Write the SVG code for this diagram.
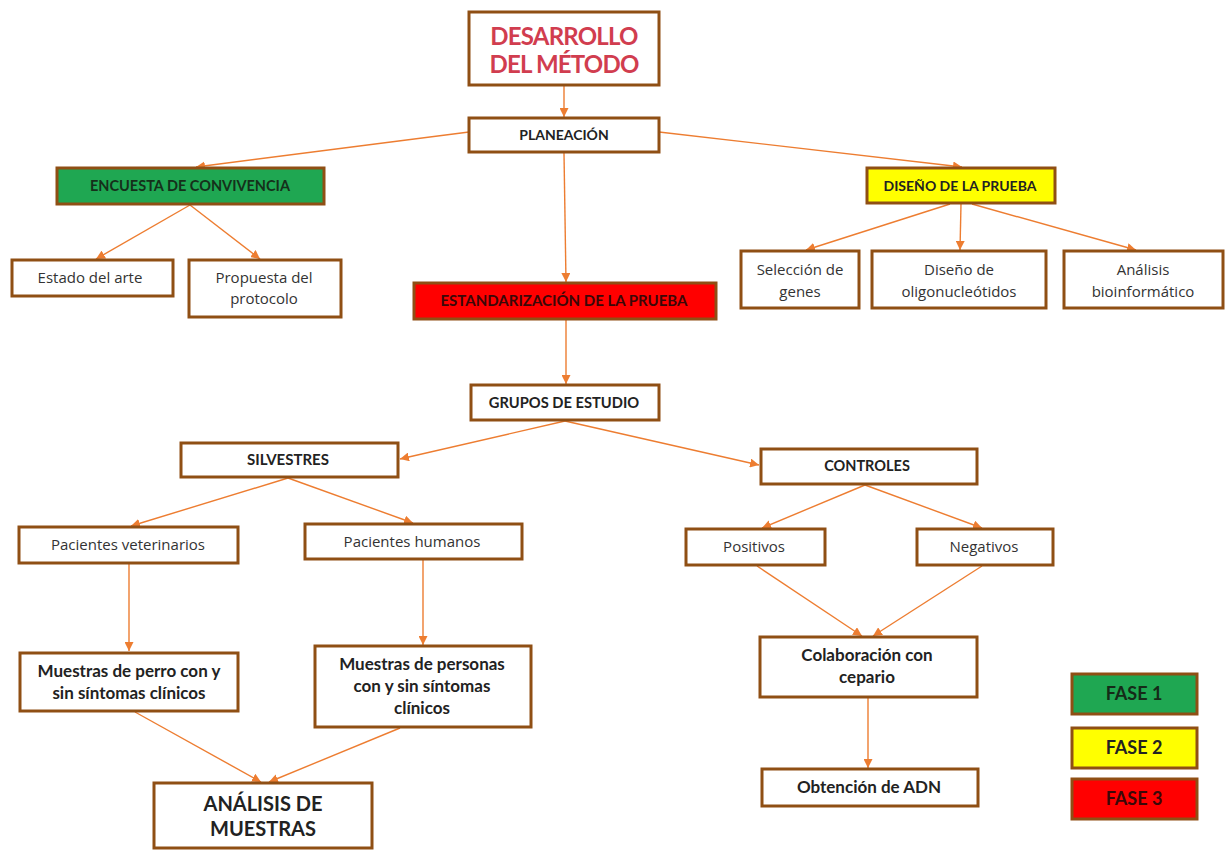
<svg xmlns="http://www.w3.org/2000/svg" width="1225" height="851" viewBox="0 0 1225 851">
<defs>
<marker id="ah" viewBox="0 0 10 10" refX="10" refY="5" markerWidth="9" markerHeight="9" markerUnits="userSpaceOnUse" orient="auto">
<path d="M0,0 L10,5 L0,10 z" fill="#ed7d31"/>
</marker>
<style>
.box{fill:#fff;stroke:#8f4f14;stroke-width:3}
.g{fill:#1fa752}.y{fill:#ffff00}.r{fill:#ff0000}
.c{fill:none;stroke:#ed7d31;stroke-width:1.4;marker-end:url(#ah)}
.b{font-family:Lato,"Liberation Sans",sans-serif;font-weight:bold;text-anchor:middle;fill:#222}
.n{font-family:"Open Sans","Liberation Sans",sans-serif;text-anchor:middle;fill:#333}
</style>
</defs>
<g id="connectors">
<line class="c" x1="564" y1="86" x2="564" y2="117"/>
<line class="c" x1="469" y1="132" x2="196" y2="167"/>
<line class="c" x1="659" y1="132" x2="962" y2="167"/>
<line class="c" x1="564" y1="153" x2="566" y2="282"/>
<line class="c" x1="190" y1="205" x2="96" y2="259"/>
<line class="c" x1="190" y1="205" x2="260" y2="259"/>
<line class="c" x1="950" y1="204" x2="806" y2="250"/>
<line class="c" x1="961" y1="204" x2="960" y2="250"/>
<line class="c" x1="972" y1="204" x2="1136" y2="250"/>
<line class="c" x1="566" y1="320" x2="566" y2="384"/>
<line class="c" x1="565" y1="421" x2="400" y2="459"/>
<line class="c" x1="565" y1="421" x2="759" y2="465"/>
<line class="c" x1="288" y1="478" x2="131" y2="526"/>
<line class="c" x1="288" y1="478" x2="413" y2="523"/>
<line class="c" x1="129" y1="564" x2="129" y2="651"/>
<line class="c" x1="423" y1="560" x2="423" y2="645"/>
<line class="c" x1="135" y1="712" x2="261" y2="782"/>
<line class="c" x1="400" y1="728" x2="269" y2="782"/>
<line class="c" x1="865" y1="485" x2="762" y2="528"/>
<line class="c" x1="865" y1="485" x2="982" y2="528"/>
<line class="c" x1="757" y1="566" x2="862" y2="636"/>
<line class="c" x1="982" y1="566" x2="873" y2="636"/>
<line class="c" x1="868" y1="698" x2="868" y2="768"/>
</g>
<g id="desarrollo"><rect class="box" x="469" y="12" width="190" height="73"/>
<text class="b" x="564" y="45" font-size="24" style="fill:#d13d4f" letter-spacing="-0.8">DESARROLLO</text>
<text class="b" x="564" y="73" font-size="24" style="fill:#d13d4f" letter-spacing="-0.8">DEL MÉTODO</text></g>
<g id="planeacion"><rect class="box" x="469" y="118" width="190" height="34"/>
<text class="b" x="564" y="140" font-size="14">PLANEACIÓN</text></g>
<g id="encuesta"><rect class="box g" x="57" y="168" width="267" height="36"/>
<text class="b" x="190" y="191" font-size="14.5" style="fill:#15301a">ENCUESTA DE CONVIVENCIA</text></g>
<g id="estado"><rect class="box" x="12" y="260" width="161" height="36"/>
<text class="n" x="90" y="283" font-size="15">Estado del arte</text></g>
<g id="propuesta"><rect class="box" x="189" y="260" width="152" height="57"/>
<text class="n" x="264" y="283" font-size="15">Propuesta del</text>
<text class="n" x="264" y="304" font-size="15">protocolo</text></g>
<g id="diseno"><rect class="box y" x="867" y="168" width="188" height="35"/>
<text class="b" x="960" y="191" font-size="14">DISEÑO DE LA PRUEBA</text></g>
<g id="seleccion"><rect class="box" x="741" y="251" width="118" height="57"/>
<text class="n" x="800" y="275" font-size="15">Selección de</text>
<text class="n" x="800" y="297" font-size="15">genes</text></g>
<g id="oligo"><rect class="box" x="872" y="251" width="174" height="57"/>
<text class="n" x="959" y="275" font-size="15">Diseño de</text>
<text class="n" x="959" y="297" font-size="15">oligonucleótidos</text></g>
<g id="bioinf"><rect class="box" x="1064" y="251" width="159" height="57"/>
<text class="n" x="1143" y="275" font-size="15">Análisis</text>
<text class="n" x="1143" y="297" font-size="15">bioinformático</text></g>
<g id="estandarizacion"><rect class="box r" x="414" y="283" width="302" height="36"/>
<text class="b" x="564" y="306" font-size="15" style="fill:#3a0808">ESTANDARIZACIÓN  DE LA PRUEBA</text></g>
<g id="grupos"><rect class="box" x="471" y="385" width="188" height="35"/>
<text class="b" x="564" y="408" font-size="14.7">GRUPOS DE ESTUDIO</text></g>
<g id="silvestres"><rect class="box" x="181" y="443" width="217" height="34"/>
<text class="b" x="288" y="465" font-size="15">SILVESTRES</text></g>
<g id="controles"><rect class="box" x="761" y="449" width="216" height="35"/>
<text class="b" x="867" y="471" font-size="14.5">CONTROLES</text></g>
<g id="veterinarios"><rect class="box" x="19" y="527" width="219" height="36"/>
<text class="n" x="128" y="550" font-size="15">Pacientes veterinarios</text></g>
<g id="humanos"><rect class="box" x="305" y="524" width="217" height="35"/>
<text class="n" x="412" y="547" font-size="15">Pacientes humanos</text></g>
<g id="perro"><rect class="box" x="20" y="653" width="218" height="58"/>
<text class="b" x="129" y="677" font-size="17">Muestras de perro con y</text>
<text class="b" x="129" y="699" font-size="17">sin síntomas clínicos</text></g>
<g id="personas"><rect class="box" x="315" y="646" width="216" height="81"/>
<text class="b" x="422" y="670" font-size="17">Muestras de personas</text>
<text class="b" x="422" y="692" font-size="17">con y sin síntomas</text>
<text class="b" x="422" y="714" font-size="17">clínicos</text></g>
<g id="analisis"><rect class="box" x="154" y="783" width="218" height="65"/>
<text class="b" x="263" y="811" font-size="20">ANÁLISIS DE</text>
<text class="b" x="263" y="836" font-size="20">MUESTRAS</text></g>
<g id="positivos"><rect class="box" x="686" y="529" width="139" height="36"/>
<text class="n" x="754" y="552" font-size="15">Positivos</text></g>
<g id="negativos"><rect class="box" x="917" y="529" width="136" height="36"/>
<text class="n" x="984" y="552" font-size="15">Negativos</text></g>
<g id="colaboracion"><rect class="box" x="760" y="637" width="217" height="60"/>
<text class="b" x="867" y="661" font-size="17">Colaboración con</text>
<text class="b" x="867" y="683" font-size="17">cepario</text></g>
<g id="adn"><rect class="box" x="762" y="769" width="216" height="37"/>
<text class="b" x="869" y="793" font-size="17">Obtención de ADN</text></g>
<g id="fase1"><rect class="box g" x="1072" y="674" width="125" height="40"/>
<text class="b" x="1134" y="700" font-size="18" style="fill:#152a18">FASE 1</text></g>
<g id="fase2"><rect class="box y" x="1072" y="728" width="125" height="40"/>
<text class="b" x="1134" y="754" font-size="18">FASE 2</text></g>
<g id="fase3"><rect class="box r" x="1072" y="779" width="125" height="40"/>
<text class="b" x="1134" y="805" font-size="18" style="fill:#3a0808">FASE 3</text></g>
</svg>
